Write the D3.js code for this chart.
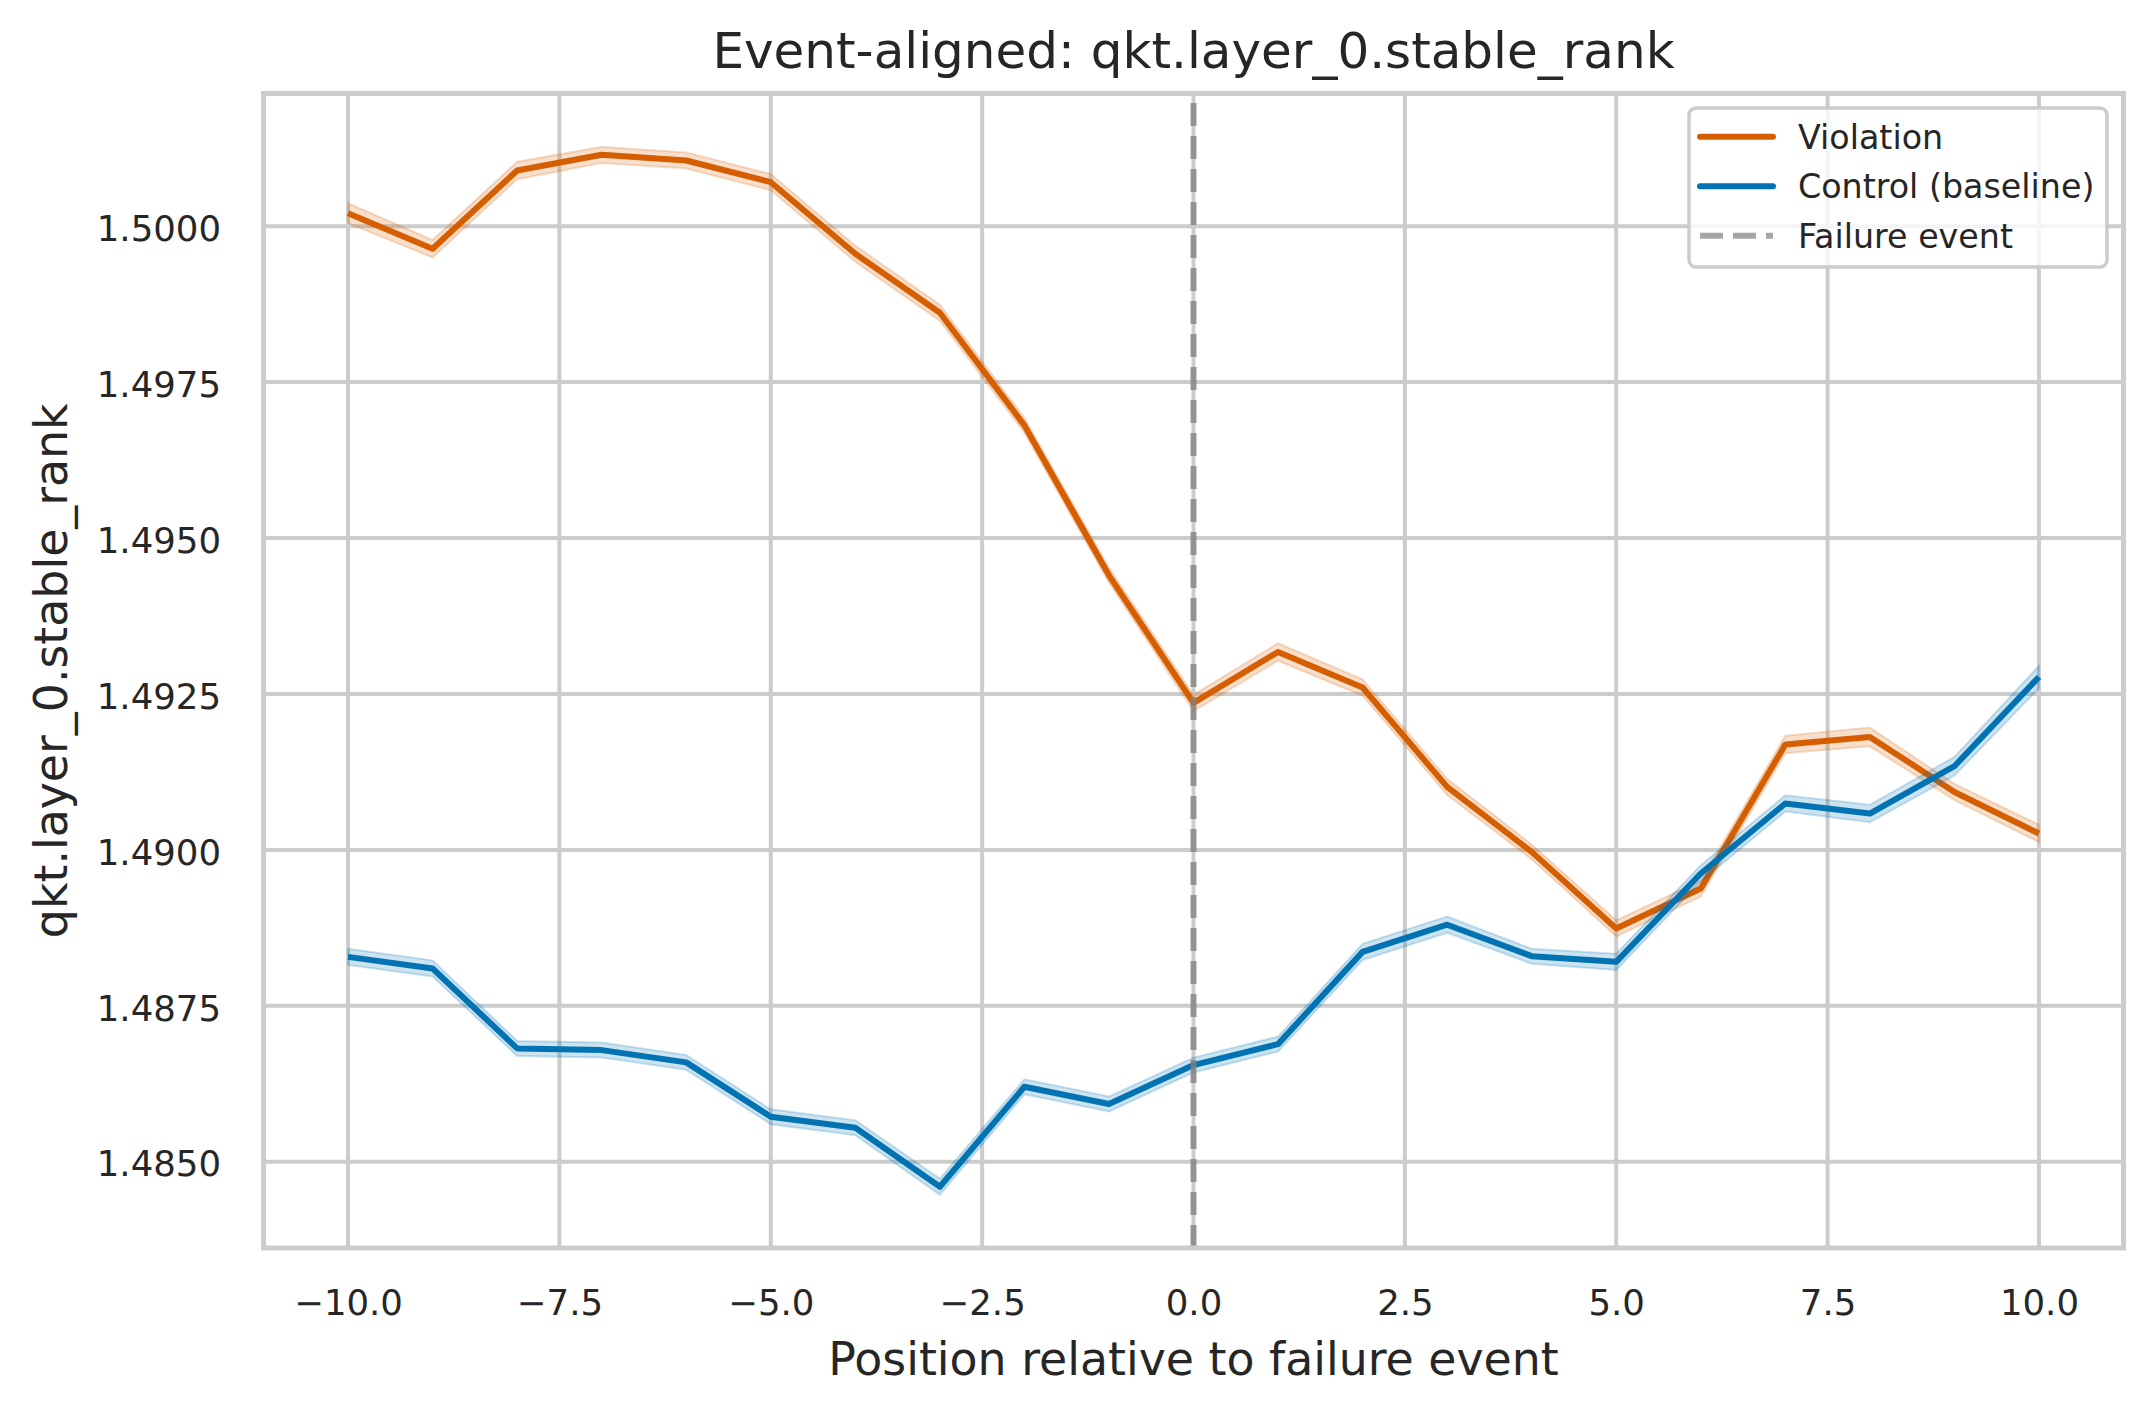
<!DOCTYPE html>
<html>
<head>
<meta charset="utf-8">
<script src="https://cdn.jsdelivr.net/npm/d3@7/dist/d3.min.js"></script>
<style>
  html, body { margin: 0; padding: 0; background: #ffffff; }
  svg { display: block; font-family: "DejaVu Sans", sans-serif; }
</style>
</head>
<body>
<script>
// ---- data ----
const positions = [-10, -9, -8, -7, -6, -5, -4, -3, -2, -1, 0, 1, 2, 3, 4, 5, 6, 7, 8, 9, 10];
const violation = [1.500208, 1.499638, 1.500893, 1.501144, 1.501053, 1.500705, 1.499558, 1.498612, 1.496806, 1.494402, 1.492356, 1.493173, 1.492603, 1.491010, 1.489968, 1.488740, 1.489381, 1.491689, 1.491811, 1.490929, 1.490263];
const violationErr = [0.00016, 0.00014, 0.00014, 0.00013, 0.00013, 0.00013, 0.00013, 0.00013, 0.00012, 0.00012, 0.00013, 0.00014, 0.00013, 0.00013, 0.00012, 0.00013, 0.00013, 0.00014, 0.00015, 0.00013, 0.00014];
const control = [1.488285, 1.488099, 1.486817, 1.486790, 1.486593, 1.485721, 1.485545, 1.484599, 1.486202, 1.485925, 1.486550, 1.486886, 1.488365, 1.488800, 1.488296, 1.488205, 1.489622, 1.490744, 1.490583, 1.491341, 1.492772];
const controlErr = [0.00013, 0.00013, 0.00012, 0.00012, 0.00012, 0.00012, 0.00012, 0.00013, 0.00012, 0.00012, 0.00012, 0.00012, 0.00013, 0.00013, 0.00012, 0.00013, 0.00013, 0.00013, 0.00014, 0.00015, 0.00018];
const xTicks = [-10, -7.5, -5, -2.5, 0, 2.5, 5, 7.5, 10];
const yTicks = [1.4850, 1.4875, 1.4900, 1.4925, 1.4950, 1.4975, 1.5000];
const eventPosition = 0;
const seriesNames = ["Violation", "Control (baseline)", "Failure event"];
const titleText = "Event-aligned: qkt.layer_0.stable_rank";
const xLabelText = "Position relative to failure event";
const yLabelText = "qkt.layer_0.stable_rank";

(function () {
// ---- layout ----
const W = 2153, H = 1415;
const pL = 263.5, pR = 2123.5, pT = 93.5, pB = 1248;
const colV = "#d55e00", colC = "#0173b2", gridCol = "#cccccc", textCol = "#262626";

const svg = d3.select("body").append("svg").attr("width", W).attr("height", H);

const x = d3.scaleLinear().domain([-11, 11]).range([pL, pR]);
const y = d3.scaleLinear().domain([1.483617, 1.502127]).range([pB, pT]);

// grid
const grid = svg.append("g");
grid.selectAll("line.gx").data(xTicks).join("line").attr("class", "gx")
  .attr("x1", d => x(d)).attr("x2", d => x(d)).attr("y1", pT).attr("y2", pB)
  .attr("stroke", gridCol).attr("stroke-width", 4);
grid.selectAll("line.gy").data(yTicks).join("line").attr("class", "gy")
  .attr("y1", d => y(d)).attr("y2", d => y(d)).attr("x1", pL).attr("x2", pR)
  .attr("stroke", gridCol).attr("stroke-width", 4);

// clip
svg.append("clipPath").attr("id", "clip").append("rect")
  .attr("x", pL).attr("y", pT).attr("width", pR - pL).attr("height", pB - pT);
const plot = svg.append("g").attr("clip-path", "url(#clip)");

function drawSeries(vals, errs, color) {
  const pts = positions.map((p, i) => ({ p, v: vals[i], e: errs[i] }));
  const area = d3.area().x(d => x(d.p)).y0(d => y(d.v - d.e)).y1(d => y(d.v + d.e));
  plot.append("path").datum(pts).attr("d", area)
    .attr("fill", color).attr("fill-opacity", 0.2)
    .attr("stroke", color).attr("stroke-opacity", 0.2).attr("stroke-width", 2);
  const line = d3.line().x(d => x(d.p)).y(d => y(d.v));
  plot.append("path").datum(pts).attr("d", line)
    .attr("fill", "none").attr("stroke", color).attr("stroke-width", 6)
    .attr("stroke-linejoin", "round").attr("stroke-linecap", "butt");
}
drawSeries(violation, violationErr, colV);
drawSeries(control, controlErr, colC);

// failure event line
plot.append("line")
  .attr("x1", x(eventPosition)).attr("x2", x(eventPosition)).attr("y1", pB).attr("y2", pT)
  .attr("stroke", "#808080").attr("stroke-opacity", 0.78).attr("stroke-width", 6)
  .attr("stroke-dasharray", "23,10");

// frame
svg.append("rect").attr("x", pL).attr("y", pT).attr("width", pR - pL).attr("height", pB - pT)
  .attr("fill", "none").attr("stroke", gridCol).attr("stroke-width", 5);

// axes
const xAxis = svg.append("g").attr("transform", `translate(0,${pB})`)
  .call(d3.axisBottom(x).tickValues(xTicks).tickSize(0).tickPadding(41.5).tickFormat(d3.format(".1f")));
const yAxis = svg.append("g").attr("transform", `translate(${pL},0)`)
  .call(d3.axisLeft(y).tickValues(yTicks).tickSize(0).tickPadding(42.5).tickFormat(d3.format(".4f")));
[xAxis, yAxis].forEach(a => {
  a.select(".domain").remove();
  a.selectAll("text").attr("font-family", "DejaVu Sans").attr("font-size", 35.5).attr("fill", textCol);
});
yAxis.selectAll("text").attr("dy", "0.40em");

// labels
svg.append("text").attr("x", (pL + pR) / 2).attr("y", 68).attr("text-anchor", "middle")
  .attr("font-size", 50).attr("fill", textCol).text(titleText);
svg.append("text").attr("x", (pL + pR) / 2).attr("y", 1375).attr("text-anchor", "middle")
  .attr("font-size", 45.8).attr("fill", textCol).text(xLabelText);
svg.append("text").attr("transform", `translate(67,${(pT + pB) / 2}) rotate(-90)`)
  .attr("text-anchor", "middle").attr("font-size", 45.8).attr("fill", textCol).text(yLabelText);

// legend
const lg = svg.append("g");
lg.append("rect").attr("x", 1689).attr("y", 108).attr("width", 418).attr("height", 159)
  .attr("rx", 7).attr("fill", "#ffffff").attr("fill-opacity", 0.8)
  .attr("stroke", gridCol).attr("stroke-width", 3.5);
const legendItems = [
  { name: seriesNames[0], color: colV, dash: null, op: 1 },
  { name: seriesNames[1], color: colC, dash: null, op: 1 },
  { name: seriesNames[2], color: "#808080", dash: "23,10", op: 0.7 }
];
legendItems.forEach((it, i) => {
  const cy = 136.7 + i * 49.5;
  const l = lg.append("line").attr("x1", 1700).attr("x2", 1773).attr("y1", cy).attr("y2", cy)
    .attr("stroke", it.color).attr("stroke-width", 6).attr("stroke-opacity", it.op);
  if (it.dash) l.attr("stroke-dasharray", it.dash); else l.attr("stroke-linecap", "round");
  lg.append("text").attr("x", 1798).attr("y", cy).attr("dy", "0.36em")
    .attr("font-size", 33.3).attr("fill", textCol).text(it.name);
});
})();
</script>
</body>
</html>
